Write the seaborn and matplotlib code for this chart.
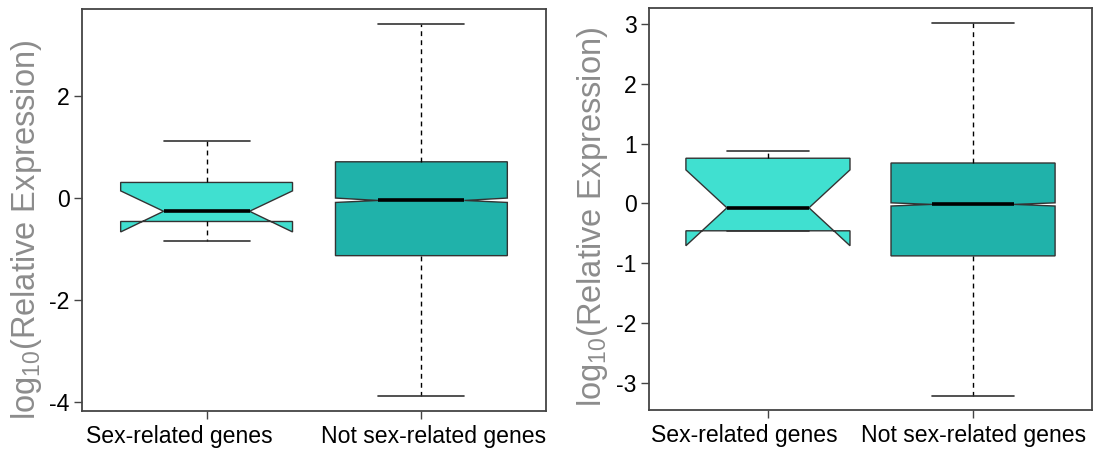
import matplotlib
matplotlib.use("Agg")
import matplotlib.pyplot as plt
import matplotlib.transforms as mtransforms
import seaborn as sns

# ---------------- data ----------------
categories = ["Sex-related genes", "Not sex-related genes"]
box_colors = ["#40E0D0", "#20B2AA"]

# Panel A (left)
a_whislo = [-0.84, -3.89]
a_q1 = [-0.465, -1.135]
a_med = [-0.265, -0.053]
a_q3 = [0.30, 0.705]
a_whishi = [1.11, 3.41]
a_ci_lo = [-0.67, -0.092]
a_ci_hi = [0.135, -0.006]
a_yticks = [-4, -2, 0, 2]
a_ylim = (-4.18, 3.70)

# Panel B (right)
b_whislo = [-0.46, -3.22]
b_q1 = [-0.46, -0.88]
b_med = [-0.075, -0.018]
b_q3 = [0.755, 0.675]
b_whishi = [0.87, 3.015]
b_ci_lo = [-0.71, -0.045]
b_ci_hi = [0.56, 0.008]
b_yticks = [-3, -2, -1, 0, 1, 2, 3]
b_ylim = (-3.46, 3.27)

ylabel = r"$\mathregular{log_{10}}$(Relative Expression)"

# ---------------- style ----------------
sns.set_style("white")
plt.rcParams["font.family"] = ["Liberation Sans", "DejaVu Sans"]
plt.rcParams["mathtext.default"] = "regular"

fig = plt.figure(figsize=(10.94, 4.5), dpi=100)
W, H = 1094, 450


def px_axes(left, right, top, bottom):
    return fig.add_axes([left / W, 1 - bottom / H, (right - left) / W, (bottom - top) / H])


def draw_panel(ax, whislo, q1, med, q3, whishi, cilo, cihi, yticks, ylim,
               label_xy, xlabel_shift):
    stats = []
    for i, cat in enumerate(categories):
        stats.append(dict(med=med[i], q1=q1[i], q3=q3[i], whislo=whislo[i],
                          whishi=whishi[i], cilo=cilo[i], cihi=cihi[i],
                          fliers=[], label=cat))
    art = ax.bxp(stats, positions=[1, 2], widths=0.8, shownotches=True,
                 patch_artist=True, showfliers=False, manage_ticks=False,
                 boxprops=dict(edgecolor="#333333", linewidth=1.0),
                 medianprops=dict(color="black", linewidth=2.6),
                 whiskerprops=dict(color="black", linestyle=(0, (3.5, 3)), linewidth=1.0),
                 capprops=dict(color="#333333", linewidth=1.2),
                 capwidths=0.4)
    for patch, c in zip(art["boxes"], box_colors):
        patch.set_facecolor(c)
    ax.set_xlim(0.42, 2.58)
    ax.set_ylim(*ylim)
    ax.set_xticks([1, 2], categories)
    ax.set_yticks(yticks, [str(t) for t in yticks])
    for sp in ax.spines.values():
        sp.set_visible(True)
        sp.set_color("#444444")
        sp.set_linewidth(1.3)
    ax.tick_params(axis="both", direction="out", length=6, width=1.0,
                   color="#444444", labelsize=16.6, labelcolor="black",
                   left=True, bottom=True)
    ax.tick_params(axis="y", pad=3)
    ax.tick_params(axis="x", pad=4)
    for lab, dx in zip(ax.get_xticklabels(), xlabel_shift):
        lab.set_transform(lab.get_transform() +
                          mtransforms.ScaledTranslation(dx / 100, 0, fig.dpi_scale_trans))
    ax.set_ylabel(ylabel, fontsize=23.5, color="#8c8c8c")
    ax.yaxis.set_label_coords(*label_xy)


ax1 = px_axes(82, 546, 9, 411)
draw_panel(ax1, a_whislo, a_q1, a_med, a_q3, a_whishi, a_ci_lo, a_ci_hi,
           a_yticks, a_ylim, (-0.082, 0.45), (-27, 12))

ax2 = px_axes(649, 1092, 8, 410)
draw_panel(ax2, b_whislo, b_q1, b_med, b_q3, b_whishi, b_ci_lo, b_ci_hi,
           b_yticks, b_ylim, (-0.088, 0.48), (-24, 1))

fig.savefig("out.png", dpi=100)
